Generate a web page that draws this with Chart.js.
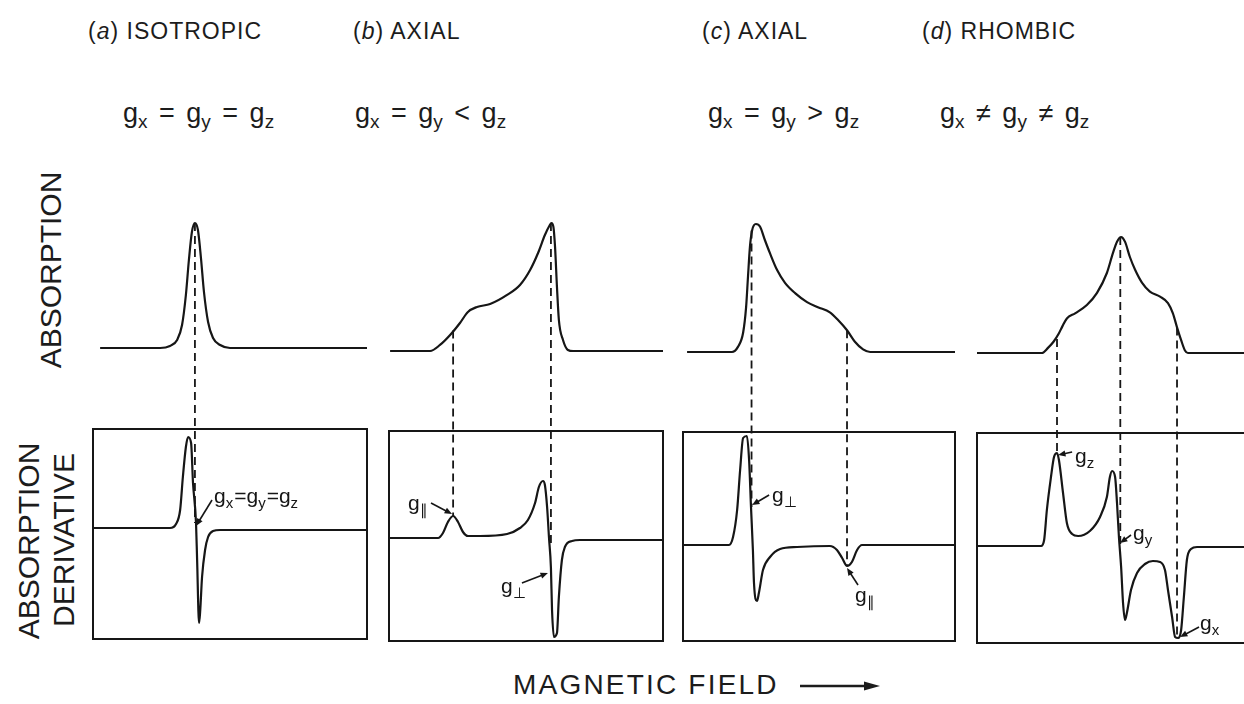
<!DOCTYPE html>
<html>
<head>
<meta charset="utf-8">
<script src="https://cdn.jsdelivr.net/npm/chart.js@4.4.1/dist/chart.umd.min.js"></script>
<style>
  body { margin: 0; width: 1244px; height: 704px; overflow: hidden; position: relative; background: #fff;
         font-family: "Liberation Sans", Arial, sans-serif; color: #1c1c1c; }
  canvas { position: absolute; }
  .title { position: absolute; font-size: 23px; line-height: 1; letter-spacing: 1px; white-space: nowrap; }
  .eq { position: absolute; font-size: 27px; line-height: 1; word-spacing: 4px; white-space: nowrap; }
  .eq sub { font-size: 19px; vertical-align: -6px; line-height: 0; }
  .ylab { position: absolute; font-size: 30px; line-height: 1; white-space: nowrap;
          transform: translate(-50%, -50%) rotate(-90deg); }
  .xlab { position: absolute; left: 513px; top: 671px; font-size: 28px; line-height: 1; letter-spacing: 2.2px; white-space: nowrap; }
</style>
</head>
<body>

<div class="title" style="left:88px;top:20px">(<i>a</i>) ISOTROPIC</div>
<div class="title" style="left:353px;top:20px">(<i>b</i>) AXIAL</div>
<div class="title" style="left:702px;top:20px">(<i>c</i>) AXIAL</div>
<div class="title" style="left:922px;top:20px">(<i>d</i>) RHOMBIC</div>

<div class="eq" style="left:123px;top:100px">g<sub>x</sub> = g<sub>y</sub> = g<sub>z</sub></div>
<div class="eq" style="left:355px;top:100px">g<sub>x</sub> = g<sub>y</sub> &lt; g<sub>z</sub></div>
<div class="eq" style="left:708px;top:100px">g<sub>x</sub> = g<sub>y</sub> &gt; g<sub>z</sub></div>
<div class="eq" style="left:940px;top:100px">g<sub>x</sub> ≠ g<sub>y</sub> ≠ g<sub>z</sub></div>

<div class="ylab" style="left:51px;top:270px">ABSORPTION</div>
<div class="ylab" style="left:29px;top:541px">ABSORPTION</div>
<div class="ylab" style="left:64px;top:540px">DERIVATIVE</div>

<div class="xlab">MAGNETIC FIELD</div>
<svg style="position:absolute;left:798px;top:677px" width="84" height="18">
  <line x1="2" y1="9" x2="68" y2="9" stroke="#1c1c1c" stroke-width="2.5"/>
  <polygon points="66,4.5 82,9 66,13.5" fill="#1c1c1c"/>
</svg>

<canvas id="panelA" width="284" height="455"></canvas>
<canvas id="panelB" width="284" height="455"></canvas>
<canvas id="panelC" width="282" height="455"></canvas>
<canvas id="panelD" width="284" height="455"></canvas>

<script>
// field axis runs 0..100 (arbitrary units) across each panel

// (a) isotropic
const aAbsField = [2.6, 24.5, 28.1, 30.7, 32.5, 33.9, 35.0, 36.1, 37.2, 38.3, 39.4, 40.5, 42.0, 43.8, 46.4, 50.0, 100];
const aAbs = [0, 0, 0.016, 0.064, 0.184, 0.424, 0.704, 0.928, 1.0, 0.944, 0.72, 0.448, 0.208, 0.08, 0.024, 0, 0];
const aDerField = [0, 28.1, 30.3, 31.8, 32.8, 33.9, 34.7, 35.8, 36.5, 37.6, 38.0, 38.7, 39.1, 39.8, 40.9, 42.0, 43.8, 46.4, 100];
const aDer = [0, 0, 0.04, 0.18, 0.51, 0.81, 0.91, 0.85, 0.45, 0.05, -0.32, -0.95, -0.84, -0.49, -0.22, -0.09, -0.03, -0.02, -0.02];

// (b) axial, g_x = g_y < g_z
const bAbsField = [0.4, 15.0, 18.6, 22.3, 25.9, 28.8, 32.1, 36.9, 43.1, 47.8, 51.5, 54.4, 56.9, 58.6, 59.3, 60.0, 60.6, 61.3, 62.0, 63.5, 65.3, 67.2, 100];
const bAbs = [0, 0, 0.047, 0.125, 0.219, 0.305, 0.344, 0.367, 0.438, 0.516, 0.633, 0.766, 0.906, 0.98, 1.0, 0.97, 0.813, 0.5, 0.242, 0.086, 0.008, 0, 0];
const bDerField = [0, 17.9, 19.7, 21.5, 23.4, 25.2, 27.0, 28.8, 33.2, 43.1, 47.8, 50.7, 53.3, 54.7, 56.2, 56.9, 57.7, 58.4, 59.1, 59.5, 60.2, 61.3, 62.0, 63.1, 64.2, 66.8, 69.7, 100];
const bDer = [0, 0, 0.05, 0.16, 0.22, 0.16, 0.06, 0.02, 0.02, 0.04, 0.10, 0.18, 0.35, 0.51, 0.57, 0.53, 0.31, 0.0, -0.30, -0.72, -0.99, -0.95, -0.59, -0.22, -0.09, -0.03, -0.02, -0.02];

// (c) axial, g_x = g_y > g_z
const cAbsField = [1.5, 18.0, 20.2, 22.1, 23.2, 23.9, 24.6, 25.4, 26.8, 28.3, 30.1, 32.0, 34.6, 37.5, 41.2, 45.6, 49.6, 54.0, 57.0, 60.3, 63.2, 66.2, 68.8, 100];
const cAbs = [0, 0, 0.04, 0.15, 0.35, 0.59, 0.82, 0.95, 1.0, 0.98, 0.875, 0.77, 0.64, 0.54, 0.46, 0.39, 0.35, 0.31, 0.25, 0.17, 0.08, 0.02, 0, 0];
const cDerField = [0, 16.9, 18.4, 19.9, 21.0, 22.1, 23.5, 24.3, 25.0, 25.7, 26.1, 27.2, 27.9, 29.4, 32.0, 35.7, 41.9, 54.0, 56.6, 58.5, 60.3, 62.1, 64.0, 65.8, 100];
const cDer = [0, 0, 0.08, 0.35, 0.75, 1.07, 1.09, 0.85, 0.38, -0.05, -0.38, -0.56, -0.48, -0.25, -0.12, -0.04, -0.02, -0.01, -0.05, -0.13, -0.21, -0.17, -0.05, 0, 0];

// (d) rhombic
const dAbsField = [0, 23.7, 25.9, 28.0, 29.8, 31.2, 32.8, 35.8, 40.1, 43.8, 47.4, 49.6, 51.1, 52.6, 54.0, 55.8, 57.7, 60.2, 63.1, 66.8, 69.7, 71.5, 73.0, 74.5, 75.9, 77.0, 100];
const dAbs = [0, 0, 0.04, 0.09, 0.15, 0.21, 0.27, 0.31, 0.375, 0.47, 0.625, 0.78, 0.87, 0.906, 0.87, 0.75, 0.65, 0.55, 0.48, 0.44, 0.39, 0.31, 0.20, 0.10, 0.02, 0, 0];
const dDerField = [0, 23.4, 24.5, 25.5, 27.0, 28.1, 29.2, 29.9, 31.4, 32.8, 34.7, 36.9, 41.2, 44.9, 47.4, 48.5, 49.3, 50.4, 51.1, 51.8,
  52.6, 53.3, 54.0, 54.7, 56.2, 58.4, 61.3, 64.2, 66.8, 68.6, 69.7, 71.2, 72.3, 73.4, 74.5, 75.5, 76.6, 78.1, 80.3, 100];
const dDer = [0, 0, 0.06, 0.36, 0.69, 0.89, 0.93, 0.86, 0.53, 0.23, 0.12, 0.10, 0.15, 0.29, 0.49, 0.69, 0.75, 0.69, 0.43, 0.09,
  -0.21, -0.57, -0.74, -0.67, -0.44, -0.27, -0.18, -0.15, -0.16, -0.24, -0.44, -0.71, -0.91, -0.92, -0.84, -0.51, -0.14, -0.03, -0.01, -0.01];

// g-value positions: dashed line from the absorption curve down to the derivative curve
const aMarks = [{ x: 37.2, abs: 1.0, der: 0.05 }];
const bMarks = [{ x: 23.4, abs: 0.16, der: 0.22 }, { x: 59.1, abs: 1.0, der: -0.1 }];
const cMarks = [{ x: 25.2, abs: 0.95, der: 0.38 }, { x: 60.3, abs: 0.17, der: -0.21 }];
const dMarks = [{ x: 29.2, abs: 0.11, der: 0.93 }, { x: 52.3, abs: 0.906, der: 0.0 }, { x: 73.0, abs: 0.20, der: -0.92 }];

// arrow labels on the derivative traces ("_" puts the next character in subscript)
const aNotes = [{ x: 37.6, der: 0.02, text: "g_x=g_y=g_z", dx: 18, dy: -23, ax: 16, ay: -26 }];
const bNotes = [
  { x: 23.0, der: 0.24, text: "g_∥", dx: -44, dy: -4, ax: -21, ay: -11 },
  { x: 58.0, der: -0.35, text: "g_⊥", dx: -47, dy: 20, ax: -26, ay: 10 }
];
const cNotes = [
  { x: 25.4, der: 0.40, text: "g_⊥", dx: 20, dy: -3, ax: 17, ay: -10 },
  { x: 60.3, der: -0.23, text: "g_∥", dx: 8, dy: 34, ax: 11, ay: 17 }
];
const dNotes = [
  { x: 29.6, der: 0.91, text: "g_z", dx: 17, dy: 8, ax: 14, ay: -3 },
  { x: 52.2, der: 0.03, text: "g_y", dx: 13, dy: -3, ax: 11, ay: -8 },
  { x: 74.1, der: -0.91, text: "g_x", dx: 20, dy: -7, ax: 19, ay: -10 }
];

const INK = "#161616";
const CANVAS_TOP = 195;
const PAD = 5;
const CANVAS_H = 455;
const AREA_TOP = CANVAS_TOP + PAD;
const AREA_BOTTOM = CANVAS_TOP + CANVAS_H - PAD;
const DER_UNIT = 100;

const panels = [
  { id: "panelA", left: 93, right: 367, absBase: 348, absUnit: 125, derBase: 528, boxTop: 429, boxBottom: 639,
    absField: aAbsField, abs: aAbs, derField: aDerField, der: aDer, marks: aMarks, notes: aNotes },
  { id: "panelB", left: 389, right: 663, absBase: 351, absUnit: 128, derBase: 538, boxTop: 431, boxBottom: 641,
    absField: bAbsField, abs: bAbs, derField: bDerField, der: bDer, marks: bMarks, notes: bNotes },
  { id: "panelC", left: 683, right: 955, absBase: 352, absUnit: 128, derBase: 545, boxTop: 432, boxBottom: 641,
    absField: cAbsField, abs: cAbs, derField: cDerField, der: cDer, marks: cMarks, notes: cNotes },
  { id: "panelD", left: 977, right: 1251, absBase: 353, absUnit: 128, derBase: 546, boxTop: 433, boxBottom: 643,
    absField: dAbsField, abs: dAbs, derField: dDerField, der: dDer, marks: dMarks, notes: dNotes }
];

function drawSubText(ctx, str, x, y) {
  let cx = x;
  for (let i = 0; i < str.length; i++) {
    let ch = str[i], sub = false;
    if (ch === "_") { ch = str[++i]; sub = true; }
    ctx.font = sub ? "15px 'Liberation Sans', Arial" : "21px 'Liberation Sans', Arial";
    ctx.fillText(ch, cx, sub ? y + 5 : y);
    cx += ctx.measureText(ch).width + (sub ? 1 : 0);
  }
}

function eprPlugin(p) {
  return {
    id: "epr_" + p.id,
    beforeDatasetsDraw(chart) {
      const { ctx, chartArea: area, scales } = chart;
      ctx.save();
      ctx.strokeStyle = INK;
      ctx.lineWidth = 2;
      ctx.strokeRect(area.left, p.boxTop - CANVAS_TOP, area.right - area.left, p.boxBottom - p.boxTop);
      ctx.setLineDash([8, 5]);
      ctx.lineWidth = 1.8;
      p.marks.forEach(m => {
        const x = scales.x.getPixelForValue(m.x);
        ctx.beginPath();
        ctx.moveTo(x, scales.yAbs.getPixelForValue(m.abs));
        ctx.lineTo(x, scales.yDer.getPixelForValue(m.der));
        ctx.stroke();
      });
      ctx.restore();
    },
    afterDatasetsDraw(chart) {
      const { ctx, scales } = chart;
      ctx.save();
      ctx.fillStyle = INK;
      ctx.strokeStyle = INK;
      ctx.lineWidth = 1.6;
      p.notes.forEach(n => {
        const x = scales.x.getPixelForValue(n.x);
        const y = scales.yDer.getPixelForValue(n.der);
        const sx = x + n.ax, sy = y + n.ay;
        const ang = Math.atan2(y - sy, x - sx);
        ctx.beginPath();
        ctx.moveTo(sx, sy);
        ctx.lineTo(x - Math.cos(ang) * 5, y - Math.sin(ang) * 5);
        ctx.stroke();
        ctx.beginPath();
        ctx.moveTo(x, y);
        ctx.lineTo(x - Math.cos(ang - 0.4) * 8, y - Math.sin(ang - 0.4) * 8);
        ctx.lineTo(x - Math.cos(ang + 0.4) * 8, y - Math.sin(ang + 0.4) * 8);
        ctx.closePath();
        ctx.fill();
        ctx.textBaseline = "alphabetic";
        drawSubText(ctx, n.text, x + n.dx, y + n.dy);
      });
      ctx.restore();
    }
  };
}

panels.forEach(p => {
  const canvas = document.getElementById(p.id);
  canvas.style.left = (p.left - PAD) + "px";
  canvas.style.top = CANVAS_TOP + "px";

  const absPoints = p.absField.map((x, i) => ({ x, y: p.abs[i] }));
  const derPoints = p.derField.map((x, i) => ({ x, y: p.der[i] }));

  new Chart(canvas.getContext("2d"), {
    type: "line",
    data: {
      datasets: [
        { label: "Absorption", data: absPoints, yAxisID: "yAbs" },
        { label: "Absorption derivative", data: derPoints, yAxisID: "yDer" }
      ]
    },
    options: {
      responsive: false,
      animation: false,
      events: [],
      layout: { padding: PAD },
      plugins: { legend: { display: false }, tooltip: { enabled: false } },
      elements: {
        point: { radius: 0 },
        line: { borderColor: INK, borderWidth: 2.2, cubicInterpolationMode: "monotone" }
      },
      scales: {
        x: { type: "linear", min: 0, max: 100, display: false },
        yAbs: {
          type: "linear", display: false,
          min: (p.absBase - AREA_BOTTOM) / p.absUnit,
          max: (p.absBase - AREA_TOP) / p.absUnit
        },
        yDer: {
          type: "linear", display: false,
          min: (p.derBase - AREA_BOTTOM) / DER_UNIT,
          max: (p.derBase - AREA_TOP) / DER_UNIT
        }
      }
    },
    plugins: [eprPlugin(p)]
  });
});
</script>
</body>
</html>
